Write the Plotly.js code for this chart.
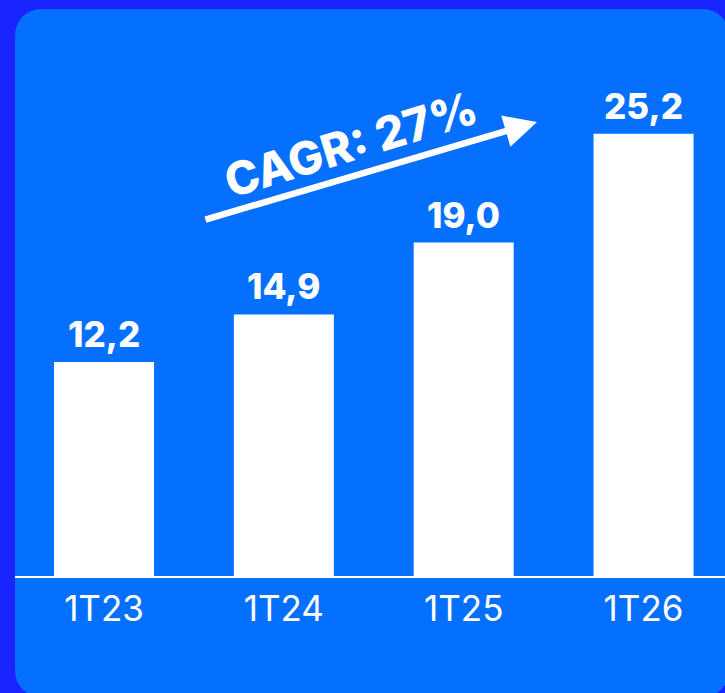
<!DOCTYPE html>
<html>
<head>
<meta charset="utf-8">
<script src="https://cdn.plot.ly/plotly-3.0.1.min.js"></script>
<style>
html,body{margin:0;padding:0;background:#1a24fe;width:725px;height:693px;overflow:hidden;}
#card{position:absolute;left:15px;top:9px;width:714px;height:688px;border-radius:26px;background:#0670fe;}
#chart{position:absolute;left:0;top:0;width:725px;height:693px;}
</style>
</head>
<body>
<div id="card"></div>
<div id="chart"></div>
<script>
const categories = ['1T23', '1T24', '1T25', '1T26'];
const values = [12.2, 14.9, 19.0, 25.2];
const cagrLabel = 'CAGR: 27%';

const FONT = 'Inter, "Noto Sans", sans-serif';
const L = 15, R = 725, T = 60, B = 576;
const W = R - L, H = B - T;
const px2x = x => (x - L) / W;
const px2y = y => (B - y) / H;

const trace = {
  type: 'bar',
  x: [0, 1, 2, 3],
  y: values,
  width: 0.556,
  marker: {color: '#ffffff', line: {width: 0}},
  hoverinfo: 'skip'
};

const valueAnnotations = values.map((v, i) => ({
  x: i, y: v, xref: 'x', yref: 'y',
  text: v.toFixed(1).replace('.', ','),
  showarrow: false,
  yanchor: 'bottom',
  yshift: 5,
  font: {family: FONT, size: 35, color: '#ffffff', weight: 800}
}));

const layout = {
  width: 725, height: 693,
  margin: {l: L, r: 725 - R, t: T, b: 693 - B, pad: 0},
  paper_bgcolor: 'rgba(0,0,0,0)',
  plot_bgcolor: 'rgba(0,0,0,0)',
  showlegend: false,
  xaxis: {
    range: [-0.495, 3.453],
    tickvals: [0, 1, 2, 3],
    ticktext: categories,
    showgrid: false, zeroline: false,
    showline: true, linecolor: '#ffffff', linewidth: 1.5,
    ticks: '', ticklabelstandoff: 1,
    tickfont: {family: FONT, size: 35, color: '#ffffff'},
    fixedrange: true
  },
  yaxis: {
    range: [0, 29.4],
    visible: false, showgrid: false, zeroline: false,
    fixedrange: true
  },
  annotations: valueAnnotations.concat([
    {
      xref: 'paper', yref: 'paper',
      x: px2x(537), y: px2y(122),
      axref: 'pixel', ayref: 'pixel',
      ax: 204 - 537, ay: 220 - 122,
      text: '', showarrow: true,
      arrowhead: 2, arrowsize: 1.0, arrowwidth: 6.5, arrowcolor: '#ffffff'
    },
    {
      xref: 'paper', yref: 'paper',
      x: px2x(350), y: px2y(144),
      text: cagrLabel, showarrow: false,
      textangle: -17,
      xanchor: 'center', yanchor: 'middle',
      font: {family: FONT, size: 46, color: '#ffffff', weight: 800}
    }
  ])
};

Plotly.newPlot('chart', [trace], layout, {displayModeBar: false, staticPlot: true});
</script>
</body>
</html>
